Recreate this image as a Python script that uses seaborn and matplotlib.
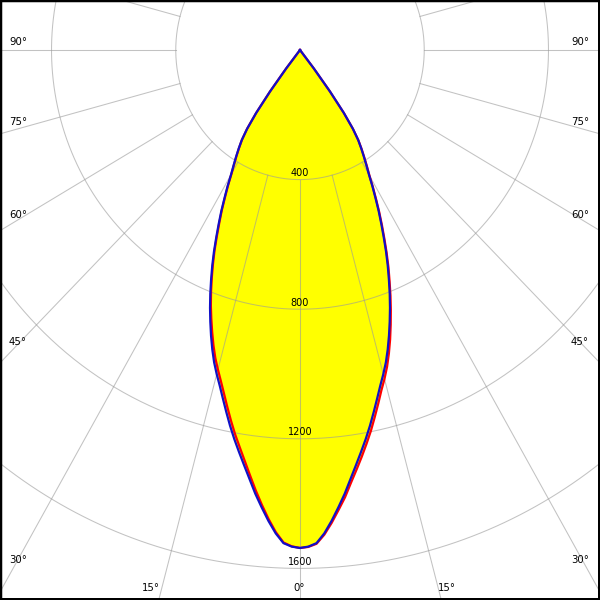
import numpy as np
import pandas as pd
import matplotlib
matplotlib.use("Agg")
import matplotlib.pyplot as plt
import seaborn as sns

# ---- data ----
gamma_deg = list(range(0, 40))
blue_c90_c270 = [1537, 1533, 1523, 1494, 1457, 1417, 1377, 1334, 1294, 1256,
                 1219, 1181, 1142, 1104, 1068, 1036, 1003, 966, 927, 887,
                 847, 806, 764, 723, 681, 638, 597, 558, 518, 481,
                 444, 415, 388, 362, 335, 297, 240, 160, 72, 0]
red_c0 = [1537, 1534, 1525, 1498, 1463, 1425, 1388, 1346, 1308, 1271,
          1234, 1197, 1158, 1120, 1083, 1051, 1017, 979, 939, 897,
          855, 813, 770, 729, 686, 643, 602, 562, 522, 484,
          447, 418, 390, 364, 336, 297, 240, 160, 72, 0]
red_c180 = [1537, 1532, 1521, 1490, 1451, 1409, 1366, 1322, 1280, 1241,
            1204, 1165, 1126, 1088, 1053, 1021, 989, 953, 915, 877,
            839, 799, 758, 717, 676, 633, 592, 554, 514, 478,
            441, 412, 386, 360, 334, 297, 240, 160, 72, 0]
ring_values = [400, 800, 1200, 1600, 2000, 2400]
ring_labels = ["400", "800", "1200", "1600"]
angle_labels = ["0°", "15°", "30°", "45°", "60°", "75°", "90°"]

# pixel mapping of the reference: centre (300, 50), px per cd
SX, SY = 0.3106, 0.324
CX, CY = 300.0, 50.0


def curve_xy(left_vals, right_vals):
    g = np.radians(np.array(gamma_deg, dtype=float))
    lv = np.array(left_vals, dtype=float)
    rv = np.array(right_vals, dtype=float)
    xl = -lv * np.sin(g)
    yl = -lv * np.cos(g)
    xr = rv * np.sin(g)
    yr = -rv * np.cos(g)
    x = np.concatenate([xl[::-1], xr[1:]])
    y = np.concatenate([yl[::-1], yr[1:]])
    return x, y


bx, by = curve_xy(blue_c90_c270, blue_c90_c270)
rx, ry = curve_xy(red_c180, red_c0)
df_blue = pd.DataFrame({"x": bx, "y": by})
df_red = pd.DataFrame({"x": rx, "y": ry})

fig = plt.figure(figsize=(6, 6), dpi=100)
fig.patch.set_facecolor("white")
ax = fig.add_axes([0, 0, 1, 1])
ax.set_facecolor("white")

# yellow fill
ax.fill(rx, ry, color="#ffff00", lw=0, zorder=1)
ax.fill(bx, by, color="#ffff00", lw=0, zorder=1)

# grid rings
grid_kw = dict(color="#9a9a9a", lw=0.75, alpha=0.6, zorder=2)
t = np.linspace(0, 2 * np.pi, 720)
for r in ring_values:
    ax.plot(r * np.sin(t), r * np.cos(t), **grid_kw)

# radial lines every 15 degrees, from the 400 ring outward
for a in range(0, 360, 15):
    ar = np.radians(a)
    r0, r1 = 400, 4000
    ax.plot([r0 * np.sin(ar), r1 * np.sin(ar)],
            [-r0 * np.cos(ar), -r1 * np.cos(ar)], **grid_kw)

# curves
sns.lineplot(data=df_red, x="x", y="y", sort=False, estimator=None,
             color="#ff0000", lw=1.6, ax=ax, zorder=3, legend=False)
sns.lineplot(data=df_blue, x="x", y="y", sort=False, estimator=None,
             color="#1010c8", lw=1.6, ax=ax, zorder=4, legend=False)
ax.set_xlim(-CX / SX, (600 - CX) / SX)
ax.set_ylim(-(600 - CY) / SY, CY / SY)
ax.set_axis_off()

# ring labels
for val, lab in zip(ring_values, ring_labels):
    ax.annotate(lab, xy=(0, -val), xytext=(0, 1.2), textcoords="offset points",
                ha="center", va="bottom", fontsize=7, color="black", zorder=5)

# angle labels around the border (pixel positions)
lab_pos = {
    "90°": [(18, 42), (580, 42)],
    "75°": [(18, 122), (580, 122)],
    "60°": [(18, 215), (580, 215)],
    "45°": [(18, 342), (580, 342)],
    "30°": [(18, 560), (580, 560)],
    "15°": [(151, 588), (447, 588)],
    "0°": [(299, 588)],
}
for lab in angle_labels:
    for (px, py) in lab_pos[lab]:
        fig.text(px / 600, 1 - py / 600, lab, ha="center", va="center",
                 fontsize=7.3, color="black")

# black frame
for (x0, y0, x1, y1, w) in [(0, 0.5, 600, 0.5, 2.5), (0, 599, 600, 599, 3.0),
                            (1, 0, 1, 600, 2.5), (598.5, 0, 598.5, 600, 3.0)]:
    fig.add_artist(plt.Line2D([x0 / 600, x1 / 600], [1 - y0 / 600, 1 - y1 / 600],
                              transform=fig.transFigure, color="black", lw=w * 0.72))

fig.savefig("out.png", dpi=100)
